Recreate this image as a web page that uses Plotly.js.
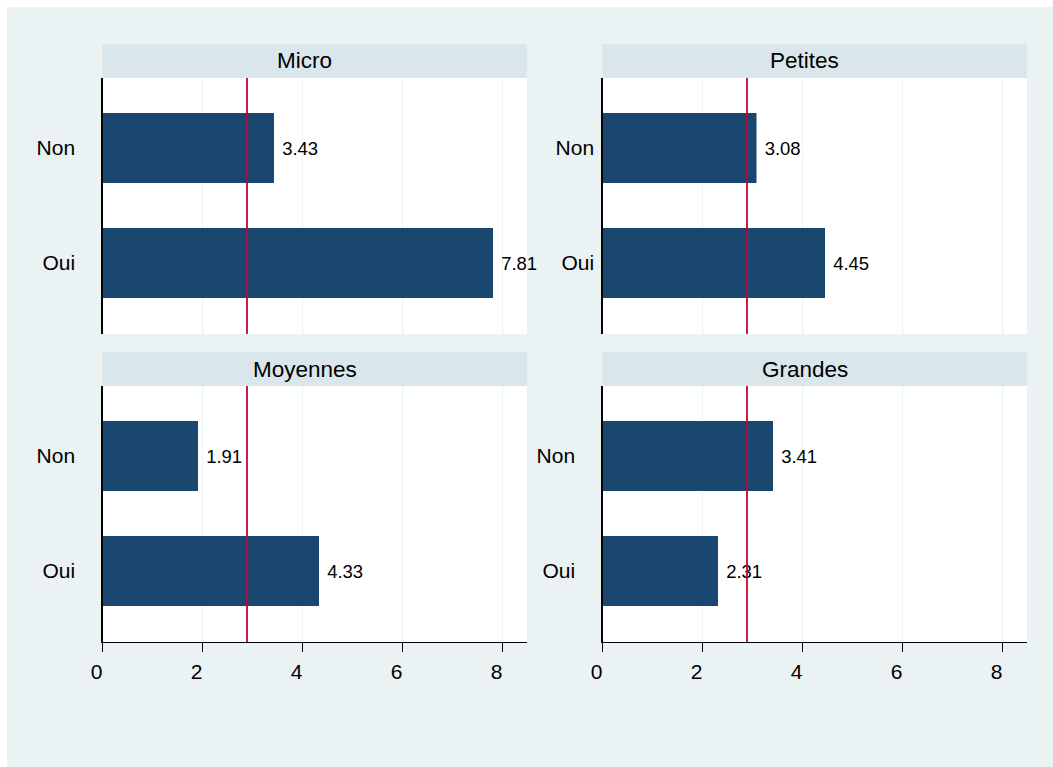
<!DOCTYPE html>
<html>
<head>
<meta charset="utf-8">
<script src="https://cdn.plot.ly/plotly-3.0.1.min.js"></script>
<style>html,body{margin:0;padding:0;background:#fff;}#chart{width:1053px;height:767px;}</style>
</head>
<body>
<div id="chart"></div>
<script>
// ---- data ----
const panels = ["Micro", "Petites", "Moyennes", "Grandes"];
const categories = ["Non", "Oui"];
const microValues = [3.43, 7.81];
const petitesValues = [3.08, 4.45];
const moyennesValues = [1.91, 4.33];
const grandesValues = [3.41, 2.31];
const referenceValue = 2.89;
const xTickValues = [0, 2, 4, 6, 8];
const xTickLabels = ["0", "2", "4", "6", "8"];

const seriesValues = [microValues, petitesValues, moyennesValues, grandesValues];

// ---- style ----
const W = 1053, H = 767;
const FONT = "Liberation Sans, Arial, Helvetica, sans-serif";
const BAR = "#1a476f";
const OUTER = "#eaf2f3";
const STRIP = "#d9e6eb";
const GRID = "#eaf2f3";
const REF = "#c10534";

const px = v => v / W;
const py = v => 1 - v / H;

const xDomains = [[px(102.5), px(527)], [px(602.5), px(1027)], [px(102.5), px(527)], [px(602.5), px(1027)]];
const yDomains = [[py(334), py(78)], [py(334), py(78)], [py(642), py(386)], [py(642), py(386)]];
const yStandoff = [22, 3, 22, 22];

const traces = [];
const layout = {
  width: W, height: H,
  margin: {l: 0, r: 0, t: 0, b: 0, pad: 0},
  paper_bgcolor: OUTER,
  plot_bgcolor: "#ffffff",
  showlegend: false,
  font: {family: FONT, color: "#000"},
  shapes: [],
  annotations: []
};

// white frame strips (top & left)
layout.shapes.push({type: "rect", xref: "paper", yref: "paper", x0: 0, x1: 1, y0: py(7), y1: 1, fillcolor: "#ffffff", line: {width: 0}, layer: "below"});
layout.shapes.push({type: "rect", xref: "paper", yref: "paper", x0: 0, x1: px(7), y0: 0, y1: 1, fillcolor: "#ffffff", line: {width: 0}, layer: "below"});

panels.forEach((name, i) => {
  const n = i + 1;
  const xa = "x" + (n === 1 ? "" : n);
  const ya = "y" + (n === 1 ? "" : n);
  const isBottom = i >= 2;
  traces.push({
    type: "bar",
    orientation: "h",
    x: seriesValues[i],
    y: categories,
    xaxis: xa, yaxis: ya,
    width: 0.609,
    marker: {color: BAR, line: {width: 0}},
    text: seriesValues[i].map(v => v.toFixed(2)),
    texttemplate: "\u00a0%{text}",
    textposition: "outside",
    constraintext: "none",
    cliponaxis: false,
    textfont: {family: FONT, size: 18.5, color: "#000"},
    hoverinfo: "skip"
  });
  const xKey = "xaxis" + (n === 1 ? "" : n);
  const yKey = "yaxis" + (n === 1 ? "" : n);
  layout[xKey] = {
    domain: xDomains[i],
    anchor: ya,
    range: [0, 8.49],
    tickvals: xTickValues,
    ticktext: xTickLabels,
    showticklabels: isBottom,
    ticks: isBottom ? "outside" : "",
    ticklen: 9,
    tickwidth: 1.2,
    tickcolor: "#000",
    ticklabelshift: -6,
    ticklabelstandoff: 2,
    tickfont: {family: FONT, size: 21, color: "#000"},
    showgrid: true,
    gridcolor: GRID,
    gridwidth: 1.5,
    zeroline: false,
    showline: isBottom,
    linecolor: "#000",
    linewidth: 1.2,
    fixedrange: true
  };
  layout[yKey] = {
    domain: yDomains[i],
    anchor: xa,
    type: "category",
    categoryorder: "array",
    categoryarray: ["Oui", "Non"],
    range: [-0.617, 1.609],
    ticks: "",
    ticklabelstandoff: yStandoff[i],
    tickfont: {family: FONT, size: 21, color: "#000"},
    showgrid: false,
    zeroline: false,
    showline: true,
    linecolor: "#000",
    linewidth: 1.2,
    fixedrange: true
  };
  // reference line
  layout.shapes.push({
    type: "line", xref: xa, yref: ya + " domain",
    x0: referenceValue, x1: referenceValue, y0: 0, y1: 1,
    line: {color: REF, width: 1.8}, layer: "above"
  });
  // strip header
  layout.shapes.push({
    type: "rect", xref: xa + " domain", yref: ya + " domain",
    x0: 0, x1: 1, y0: 1, y1: 1 + 34 / 256,
    fillcolor: STRIP, line: {width: 0}, layer: "below"
  });
  layout.annotations.push({
    text: name, showarrow: false,
    xref: xa + " domain", yref: ya + " domain",
    x: 0.5, y: 1 + 17 / 256, xanchor: "center", yanchor: "middle",
    xshift: -10,
    font: {family: FONT, size: 22.5, color: "#000"}
  });
});

Plotly.newPlot("chart", traces, layout, {displayModeBar: false, staticPlot: true});
</script>
</body>
</html>
